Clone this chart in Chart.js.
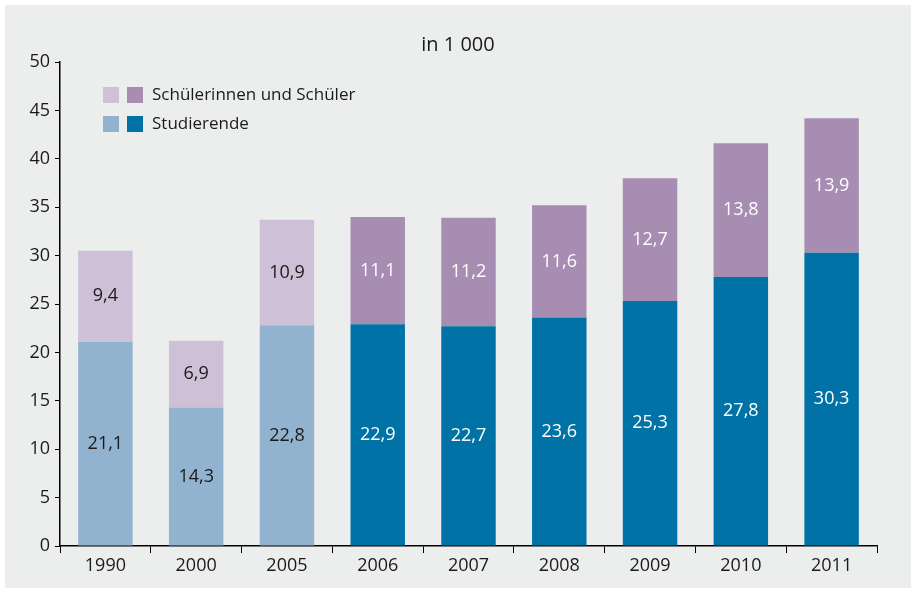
<!DOCTYPE html>
<html>
<head>
<meta charset="utf-8">
<script src="https://cdn.jsdelivr.net/npm/chart.js@4"></script>
<style>
  html, body { margin: 0; padding: 0; background: #fff; }
  #wrap { width: 913px; height: 589px; position: relative; }
</style>
</head>
<body>
<div id="wrap"><canvas id="studentsChart" width="913" height="589"></canvas></div>
<script>
const years = ['1990', '2000', '2005', '2006', '2007', '2008', '2009', '2010', '2011'];
const studierende = [21.1, 14.3, 22.8, 22.9, 22.7, 23.6, 25.3, 27.8, 30.3];
const schueler = [9.4, 6.9, 10.9, 11.1, 11.2, 11.6, 12.7, 13.8, 13.9];
const yTicks = [0, 5, 10, 15, 20, 25, 30, 35, 40, 45, 50];
const lightCount = 3; // first three years drawn in pale colours

const FONT = "'Open Sans', sans-serif";
const blueLight = '#92b3cf', blueDark = '#0072a5';
const purpleLight = '#cec0d6', purpleDark = '#a78db2';
const bg = '#eceeed';

const colorsFor = (light, dark) => years.map((_, i) => (i < lightCount ? light : dark));

// gray panel, title and the double-swatch legend
const decor = {
  id: 'decor',
  beforeDraw(chart) {
    const c = chart.ctx;
    c.save();
    c.fillStyle = bg;
    c.fillRect(5, 5, 906, 583);
    c.restore();
  },
  afterDraw(chart) {
    const c = chart.ctx;
    c.save();
    c.fillStyle = '#1a1a1a';
    c.font = '20px ' + FONT;
    c.textAlign = 'center';
    c.textBaseline = 'middle';
    c.fillText('in 1 000', 458, 45);

    const rows = [
      ['Schülerinnen und Schüler', purpleLight, purpleDark, 95],
      ['Studierende', blueLight, blueDark, 124]
    ];
    c.font = '17px ' + FONT;
    c.textAlign = 'left';
    rows.forEach(([label, l, d, y]) => {
      c.fillStyle = l;
      c.fillRect(103, y - 8, 16, 16);
      c.fillStyle = d;
      c.fillRect(127, y - 8, 16, 16);
      c.fillStyle = '#1a1a1a';
      c.fillText(label, 152, y);
    });

    // values inside segments
    c.font = '18px ' + FONT;
    c.textAlign = 'center';
    chart.data.datasets.forEach((ds, di) => {
      const meta = chart.getDatasetMeta(di);
      meta.data.forEach((bar, i) => {
        const mid = (bar.y + bar.base) / 2;
        c.fillStyle = i < lightCount ? '#1a1a1a' : '#ffffff';
        c.fillText(String(ds.data[i]).replace('.', ','), bar.x, mid);
      });
    });
    c.restore();
  }
};

new Chart(document.getElementById('studentsChart').getContext('2d'), {
  type: 'bar',
  data: {
    labels: years,
    datasets: [
      {
        label: 'Studierende',
        data: studierende,
        backgroundColor: colorsFor(blueLight, blueDark),
        barPercentage: 0.6,
        categoryPercentage: 1
      },
      {
        label: 'Schülerinnen und Schüler',
        data: schueler,
        backgroundColor: colorsFor(purpleLight, purpleDark),
        barPercentage: 0.6,
        categoryPercentage: 1
      }
    ]
  },
  options: {
    responsive: false,
    animation: false,
    layout: { padding: { left: 0, right: 36, top: 62, bottom: 0 } },
    plugins: {
      legend: { display: false },
      tooltip: { enabled: false }
    },
    scales: {
      x: {
        stacked: true,
        afterFit: s => { s.height = 43; },
        border: { color: '#000', width: 1.5 },
        grid: { drawOnChartArea: false, color: '#000', lineWidth: 1, tickLength: 7, offset: true },
        ticks: { color: '#1a1a1a', font: { family: FONT, size: 18 }, padding: 2 }
      },
      y: {
        stacked: true,
        min: 0,
        max: 50,
        afterFit: s => { s.width = 60; },
        afterBuildTicks: s => { s.ticks = yTicks.map(v => ({ value: v })); },
        border: { color: '#000', width: 1.5 },
        grid: { drawOnChartArea: false, color: '#000', lineWidth: 1, tickLength: 5 },
        ticks: { color: '#1a1a1a', font: { family: FONT, size: 18 }, padding: 5 }
      }
    }
  },
  plugins: [decor]
});
</script>
</body>
</html>
